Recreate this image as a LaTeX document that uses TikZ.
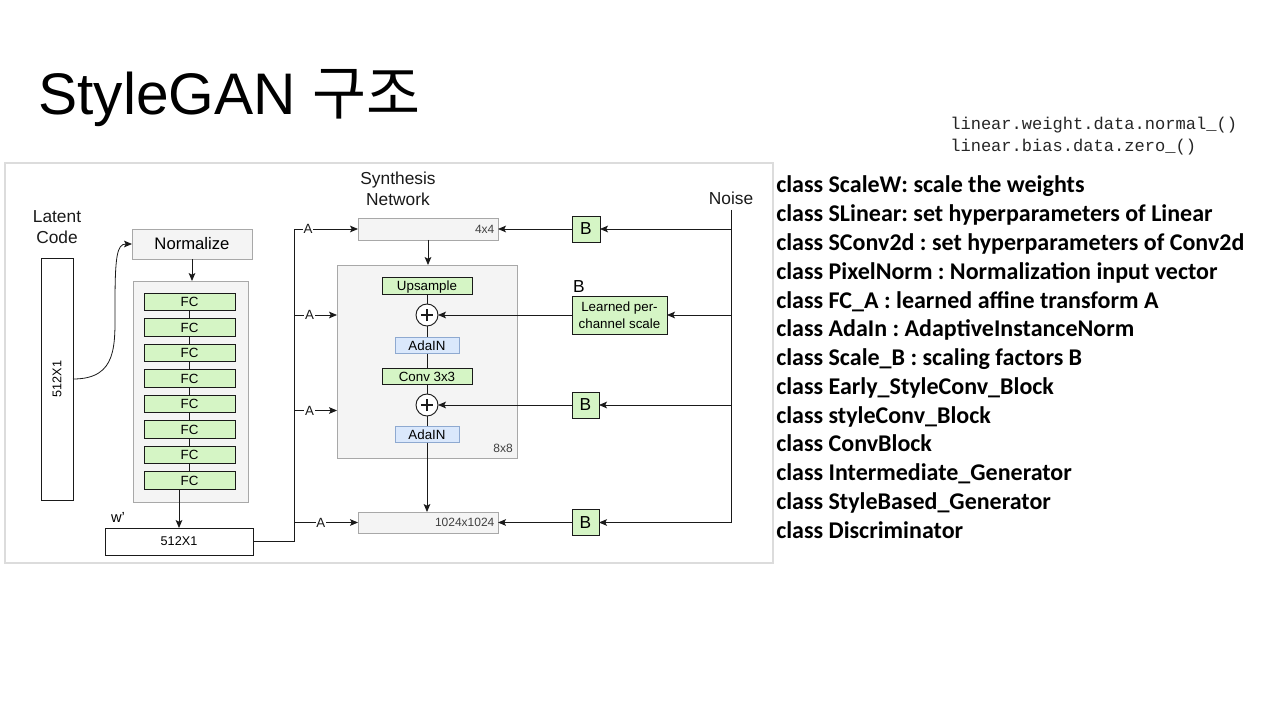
\documentclass[tikz,border=0pt]{standalone}
\usepackage{fontspec}
\setmainfont{Liberation Sans}
\newfontfamily\krfont{Noto Sans CJK KR}
\newfontfamily\codefont{Liberation Mono}
\newfontfamily\listfont{Carlito}
\usetikzlibrary{arrows.meta}
\newlength{\pxu}\setlength{\pxu}{0.75pt}
\definecolor{fcgreen}{HTML}{D5F5C5}
\definecolor{adablue}{HTML}{DAE8FC}
\definecolor{adaedge}{HTML}{8EA9D0}
\definecolor{blockfill}{HTML}{F4F4F4}
\definecolor{blockedge}{HTML}{A8A8A8}
\definecolor{frameedge}{HTML}{DCDCDC}
\definecolor{ink}{HTML}{1A1A1A}
\newcommand{\fsz}[1]{\fontsize{#1}{1.2\dimexpr #1pt\relax}\selectfont}
\frenchspacing

\begin{document}
\begin{tikzpicture}[x=0.75pt, y=-0.75pt,
  pbox/.style n args={4}{anchor=north west, at={(#1,#2)},
    minimum width={#3*\pxu}, minimum height={#4*\pxu}, inner sep=0pt, outer sep=0pt},
  plainbox/.style={draw=ink, fill=white, line width=0.6pt},
  graybox/.style={draw=blockedge, fill=blockfill, line width=0.6pt},
  capfit/.style={text height=7.2pt, text depth=0pt},
  greenbox/.style={draw=ink, fill=fcgreen, line width=0.6pt, font=\fsz{10}, capfit},
  bluebox/.style={draw=adaedge, fill=adablue, line width=0.6pt, font=\fsz{10}, capfit},
  bbox/.style={draw=ink, fill=fcgreen, line width=0.6pt, font=\fsz{13}},
  plus/.style={circle, draw=ink, fill=white, line width=0.7pt, minimum size={22*\pxu},
    inner sep=0pt, outer sep=0pt,
    path picture={
      \draw[line width=1.3pt] ([xshift=-4.6pt]path picture bounding box.center) -- ([xshift=4.6pt]path picture bounding box.center);
      \draw[line width=1.3pt] ([yshift=-4.6pt]path picture bounding box.center) -- ([yshift=4.6pt]path picture bounding box.center);}},
  conn/.style={draw=ink, line width=0.6pt},
  arr/.style={conn, -{Stealth[length=6pt, width=5pt, inset=1.3pt]}},
  alab/.style={fill=white, inner sep=0.6pt, font=\fsz{10}, text=ink},
  sizelab/.style={font=\fsz{9}, text=black!75, inner sep=0pt},
  head/.style={font=\fsz{13}, text=ink, align=center},
  listline/.style={anchor=base west, inner sep=0pt, font=\listfont\bfseries\fsz{18}},
  codeline/.style={anchor=base west, inner sep=0pt, font=\codefont\fsz{12.8}, text=black!85}
]
\useasboundingbox[fill=white] (0,0) rectangle (1280,720);

% slide title
\node[anchor=base west, inner sep=0pt, font=\fsz{44}] (title) at (38,115) {StyleGAN {\krfont 구조}};

% diagram frame
\draw[frameedge, line width=0.8pt] (5,163) rectangle (773,563);

% ---------- mapping network ----------
\node[head, font=\fontsize{13}{15.75}\selectfont] (latlab) at (57,227) {Latent\\Code};
\node[pbox={41}{258}{32}{242}, plainbox] (lat) {};
\node[rotate=90, font=\fsz{9.5}] at (lat.center) {512X1};

\node[pbox={132}{229}{120}{30}, graybox, font=\fsz{12.5}] (norm) {Normalize};
\node[pbox={133}{281}{115}{221}, graybox] (map) {};
\foreach \i [count=\n] in {0,...,7}
  \node[pbox={144}{293.3+25.5*\i}{91}{17.5}, greenbox] (fc\n) {FC};
\foreach \a/\b in {1/2,2/3,3/4,4/5,5/6,6/7,7/8}
  \draw[conn] (fc\a.south) -- (fc\b.north);

\node[anchor=base, inner sep=0pt, font=\fsz{11}] (wlab) at (118,522) {w'};
\node[pbox={105}{528}{148}{27}, plainbox, font=\fsz{9.5}] (w) {512X1};

\draw[arr] (lat.east) .. controls (118,379) and (115,345) .. (115,305)
           .. controls (115,256) and (117,244) .. (norm.west);
\draw[arr] (norm.south) -- (norm.south |- map.north);
\draw[arr] (w.north |- fc8.south) -- (w.north);

% ---------- synthesis network ----------
\node[head, font=\fontsize{13}{15.75}\selectfont] (synlab) at (398,189) {Synthesis\\Network};
\node[pbox={358}{218}{140}{22}, graybox] (c4) {};
\node[sizelab, anchor=east] at ([xshift=-2.5pt]c4.east) {4x4};

\node[pbox={337}{265}{180}{193}, graybox] (b8) {};
\node[sizelab, anchor=south east] at ([xshift=-3pt,yshift=4pt]b8.south east) {8x8};

\node[pbox={382}{277}{90}{17}, greenbox] (up) {Upsample};
\node[plus] (p1) at (427,315) {};
\node[pbox={395}{337}{64}{16.5}, bluebox] (ad1) {AdaIN};
\node[pbox={382}{368}{90}{16.5}, greenbox] (cv) {Conv 3x3};
\node[plus] (p2) at (427,405) {};
\node[pbox={395}{426}{64}{16.5}, bluebox] (ad2) {AdaIN};

\node[pbox={358}{512}{140}{21}, graybox] (c1024) {};
\node[sizelab, anchor=east] at ([xshift=-2.5pt]c1024.east) {1024x1024};

\draw[arr] (c4.south) -- (c4.south |- b8.north);
\draw[conn] (up.south) -- (p1.north);
\draw[conn] (p1.south) -- (ad1.north);
\draw[conn] (ad1.south) -- (cv.north);
\draw[conn] (cv.south) -- (p2.north);
\draw[conn] (p2.south) -- (ad2.north);
\draw[arr] (ad2.south) -- (ad2.south |- c1024.north);

% style inputs A from w
\coordinate (tt) at (294,229);
\coordinate (j1) at (294,315);
\coordinate (j2) at (294,410.5);
\draw[conn] (w.east) -- (w.east -| tt) -- (tt);
\draw[arr] (tt) -- (c4.west) node[alab, pos=0.22] {A};
\draw[arr] (j1) -- (j1 -| b8.west) node[alab, pos=0.36] {A};
\draw[arr] (j2) -- (j2 -| b8.west) node[alab, pos=0.36] {A};
\draw[arr] (tt |- c1024.west) -- (c1024.west) node[alab, pos=0.42] {A};

% ---------- noise inputs B ----------
\node[head] (noise) at (731,198) {Noise};
\coordinate (nt) at (731,210);
\coordinate (nb) at (731,522.5);
\node[pbox={572}{216}{28}{26}, bbox] (b1) {B};
\node[pbox={572}{296}{95}{38}, draw=ink, fill=fcgreen, line width=0.6pt, align=center,
      font=\fontsize{10}{12.6}\selectfont] (lps) {Learned per-\\channel scale};
\node[anchor=base, inner sep=0pt, font=\fsz{13}] (lpslab) at (579,292) {B};
\node[pbox={572}{392}{27}{26}, bbox] (b2) {B};
\node[pbox={572}{509.5}{27}{26}, bbox] (b3) {B};

\draw[conn] (nt) -- (nb);
\draw[arr] (nt |- b1.east) -- (b1.east);
\draw[arr] (b1.west) -- (b1.west -| c4.east);
\draw[arr] (nt |- lps.east) -- (lps.east);
\draw[arr] (lps.west) -- (lps.west -| p1.east);
\draw[arr] (nt |- b2.east) -- (b2.east);
\draw[arr] (b2.west) -- (b2.west -| p2.east);
\draw[arr] (nb) -- (b3.east);
\draw[arr] (b3.west) -- (b3.west -| c1024.east);

% ---------- notes ----------
\node[codeline] (code1) at (950,130) {linear.weight.data.normal\_()};
\node[codeline] (code2) at (950,152) {linear.bias.data.zero\_()};

\foreach \i/\t in {
  0/{class ScaleW: scale the weights},
  1/{class SLinear: set hyperparameters of Linear},
  2/{class SConv2d : set hyperparameters of Conv2d},
  3/{class PixelNorm : Normalization input vector},
  4/{class FC\_A : learned affine transform A},
  5/{class AdaIn : AdaptiveInstanceNorm},
  6/{class Scale\_B : scaling factors B},
  7/{class Early\_StyleConv\_Block},
  8/{class styleConv\_Block},
  9/{class ConvBlock},
  10/{class Intermediate\_Generator},
  11/{class StyleBased\_Generator},
  12/{class Discriminator}}
  \node[listline] (note\i) at (776,193+28.75*\i) {\t};

\end{tikzpicture}
\end{document}
